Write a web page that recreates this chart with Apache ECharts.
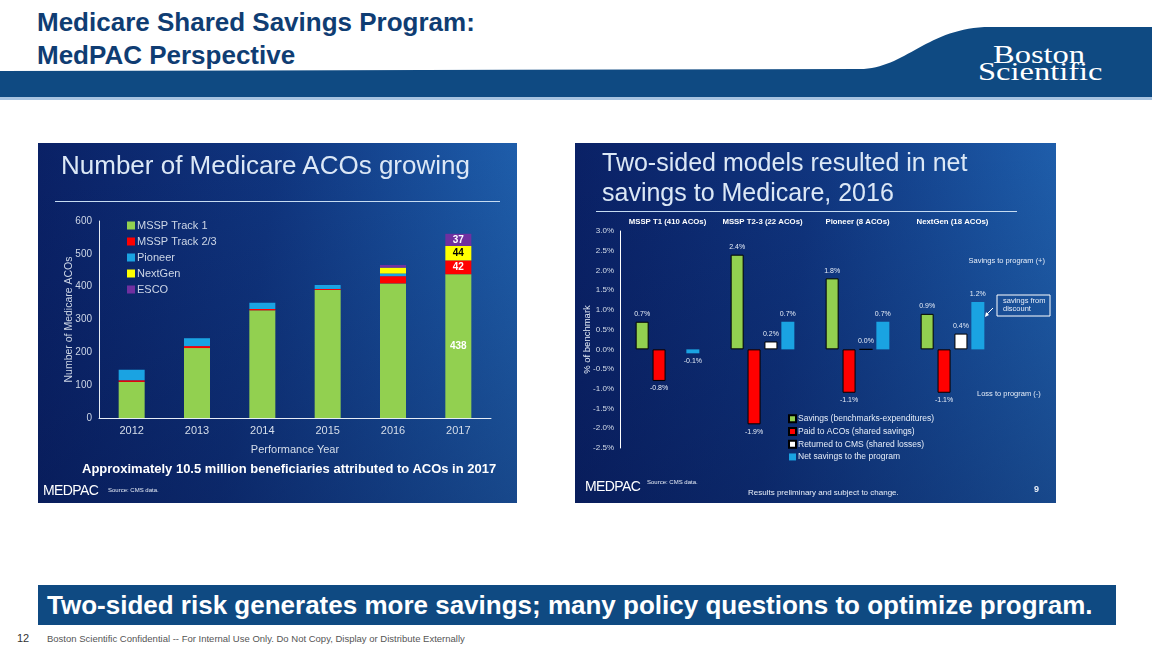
<!DOCTYPE html>
<html>
<head>
<meta charset="utf-8">
<script src="https://cdn.jsdelivr.net/npm/echarts@6/dist/echarts.min.js"></script>
<style>
  html, body { margin:0; padding:0; width:1152px; height:648px; background:#fff; overflow:hidden; font-family:"Liberation Sans", Arial, sans-serif; }
  .abs { position:absolute; }
  #hdr { left:0; top:0; width:1152px; height:102px; }
  .htitle { left:37px; color:#0f3d73; font-weight:bold; font-size:26px; line-height:33px; white-space:nowrap; }
  .logo { color:#fff; font-family:"Liberation Serif","DejaVu Serif",serif; font-size:25px; line-height:25px; white-space:nowrap; transform:scaleX(1.3); transform-origin:left top; }
  .panel { top:143px; height:360px; overflow:hidden; }
  #pl { left:38px; width:479px; background:
      linear-gradient(to bottom, rgba(0,0,0,0) 0%, rgba(3,12,60,0.35) 100%),
      linear-gradient(100deg, #0a2166 0%, #103680 45%, #1b56a3 80%, #2368b5 100%); }
  #pr { left:575px; width:481px; background:
      linear-gradient(to bottom, rgba(0,0,0,0) 0%, rgba(3,12,60,0.35) 100%),
      linear-gradient(100deg, #0a2166 0%, #103680 45%, #1b56a3 80%, #2368b5 100%); }
  .ptitle { color:#dce8f6; font-size:26px; line-height:30px; white-space:nowrap; }
  .rule { height:1px; background:#c6dcf2; }
  .chart { left:0; top:0; width:100%; height:100%; }
  .medpac { color:#fff; font-size:14px; letter-spacing:-0.6px; white-space:nowrap; line-height:16px; }
  .src { color:#e8eef8; font-size:6px; white-space:nowrap; line-height:8px; }
  #foot { left:38px; top:585px; width:1078px; height:40px; background:#0f4a82; }
  #foottxt { left:47px; top:585px; height:40px; line-height:41px; color:#fff; font-weight:bold; font-size:26px; white-space:nowrap; }
</style>
</head>
<body>
<svg id="hdr" class="abs" width="1152" height="102">
  <path d="M0,71 L860,69 C905,69 928,27 990,27 L1152,27 L1152,97 L0,97 Z" fill="#0f4a82"/>
  <rect x="0" y="97" width="1152" height="3" fill="#a8c3e0"/>
</svg>
<div class="abs htitle" style="top:6px">Medicare Shared Savings Program:</div>
<div class="abs htitle" style="top:39px">MedPAC Perspective</div>
<div class="abs logo" style="left:993px; top:42px;">Boston</div>
<div class="abs logo" style="left:978px; top:59px;">Scientific</div>

<div id="pl" class="abs panel">
  <div id="c1" class="abs chart"></div>
</div>
<div class="abs ptitle" style="left:61px; top:150px;">Number of Medicare ACOs growing</div>
<div class="abs rule" style="left:55px; top:201px; width:445px;"></div>
<div class="abs" style="left:82px; top:461px; color:#fff; font-weight:bold; font-size:13px; white-space:nowrap;">Approximately 10.5 million beneficiaries attributed to ACOs in 2017</div>
<div class="abs medpac" style="left:43px; top:482px;">MEDPAC</div>
<div class="abs src" style="left:108px; top:486px;">Source: CMS data.</div>

<div id="pr" class="abs panel">
  <div id="c2" class="abs chart"></div>
</div>
<div class="abs ptitle" style="left:602px; top:147px; font-size:25px; line-height:30px;">Two-sided models resulted in net<br>savings to Medicare, 2016</div>
<div class="abs rule" style="left:596px; top:211px; width:421px;"></div>
<div class="abs medpac" style="left:585px; top:478px;">MEDPAC</div>
<div class="abs src" style="left:647px; top:478px;">Source: CMS data.</div>
<div class="abs" style="left:748px; top:488px; color:#e8eef8; font-size:8px; white-space:nowrap;">Results preliminary and subject to change.</div>
<div class="abs" style="left:1034px; top:484px; color:#e8eef8; font-size:9px; font-weight:bold;">9</div>

<div id="foot" class="abs"></div>
<div id="foottxt" class="abs">Two-sided risk generates more savings; many policy questions to optimize program.</div>
<div class="abs" style="left:17px; top:632px; font-size:11px; color:#333;">12</div>
<div class="abs" style="left:47px; top:633px; font-size:9.5px; color:#555; white-space:nowrap;">Boston Scientific Confidential -- For Internal Use Only.  Do Not Copy, Display or Distribute Externally</div>

<script>
// ---------- Left chart data ----------
const years = ['2012', '2013', '2014', '2015', '2016', '2017'];
const msspTrack1 = [110, 213, 328, 390, 410, 438];
const msspTrack23 = [5, 6, 4, 3, 22, 42];
const pioneer = [32, 24, 19, 12, 8, 0];
const nextGen = [0, 0, 0, 0, 18, 44];
const esco = [0, 0, 0, 0, 8, 37];
const leftYTicks = [0, 100, 200, 300, 400, 500, 600];

// ---------- Right chart data ----------
const programs = ['MSSP T1 (410 ACOs)', 'MSSP T2-3 (22 ACOs)', 'Pioneer (8 ACOs)', 'NextGen (18 ACOs)'];
const savings = [0.7, 2.4, 1.8, 0.9];
const paidToACOs = [-0.8, -1.9, -1.1, -1.1];
const returnedToCMS = [null, 0.2, 0.0, 0.4];
const netSavings = [-0.1, 0.7, 0.7, 1.2];
const rightYTicks = [-2.5, -2.0, -1.5, -1.0, -0.5, 0.0, 0.5, 1.0, 1.5, 2.0, 2.5, 3.0];

const FONT = '"Liberation Sans", Arial, sans-serif';

// ---------- Left chart ----------
const c1 = echarts.init(document.getElementById('c1'), null, {renderer: 'canvas'});
const lastIdx = years.length - 1;
function leftSeries(name, values, color, labelColor) {
  return {
    name, type: 'bar', stack: 'total', barWidth: 26,
    itemStyle: { color },
    emphasis: { disabled: true },
    data: values.map((v, i) => (i === lastIdx && v !== 0) ? {
      value: v,
      label: { show: true, position: 'inside', color: labelColor, fontSize: 10, fontWeight: 'bold', fontFamily: FONT, formatter: '{c}' }
    } : v)
  };
}
c1.setOption({
  animation: false,
  grid: { left: 61, right: 26, top: 78, bottom: 85, containLabel: false, outerBoundsMode: 'none' },
  legend: {
    orient: 'vertical', left: 84, top: 71, itemWidth: 8, itemHeight: 8, itemGap: 3,
    icon: 'rect', selectedMode: false,
    textStyle: { color: '#cdd6e6', fontSize: 11, fontFamily: FONT, lineHeight: 13, padding: [0, 0, 0, -3] },
    data: ['MSSP Track 1', 'MSSP Track 2/3', 'Pioneer', 'NextGen', 'ESCO']
  },
  xAxis: {
    type: 'category', data: years,
    name: 'Performance Year', nameLocation: 'middle', nameGap: 26,
    nameTextStyle: { color: '#d6deea', fontSize: 11, fontFamily: FONT },
    axisLine: { lineStyle: { color: '#e6ecf5', width: 1 } },
    axisTick: { show: false },
    axisLabel: { color: '#d6deea', fontSize: 11, fontFamily: FONT, margin: 7 }
  },
  yAxis: {
    type: 'value', min: leftYTicks[0], max: leftYTicks[leftYTicks.length - 1], interval: 100,
    name: 'Number of Medicare ACOs', nameLocation: 'middle', nameGap: 24, nameMoveOverlap: false,
    nameTextStyle: { color: '#cdd6e6', fontSize: 10.5, fontFamily: FONT },
    axisLine: { show: true, onZero: false, lineStyle: { color: '#e6ecf5', width: 1 } },
    axisTick: { show: false },
    splitLine: { show: false },
    axisLabel: { color: '#cdd6e6', fontSize: 10, fontFamily: FONT, margin: 7 }
  },
  series: [
    leftSeries('MSSP Track 1', msspTrack1, '#92d050', '#ffffff'),
    leftSeries('MSSP Track 2/3', msspTrack23, '#ff0000', '#ffffff'),
    leftSeries('Pioneer', pioneer, '#1aa3e2', '#ffffff'),
    leftSeries('NextGen', nextGen, '#ffff00', '#000000'),
    leftSeries('ESCO', esco, '#7030a0', '#ffffff')
  ]
});

// ---------- Right chart ----------
const c2 = echarts.init(document.getElementById('c2'), null, {renderer: 'canvas'});
function pct(v) { return (Math.round(v * 10) / 10).toFixed(1) + '%'; }
function rightSeries(name, values, color, border) {
  return {
    name, type: 'bar', barWidth: 13, barGap: '30%',
    itemStyle: { color, borderColor: '#000', borderWidth: border ? 1 : 0 },
    emphasis: { disabled: true },
    data: values.map(v => v === null ? {
      value: 0, itemStyle: { opacity: 0 },
      label: { show: true, position: 'top', formatter: 'N/A' }
    } : {
      value: v,
      label: { show: true, position: v < 0 ? 'bottom' : 'top' }
    }),
    label: { show: true, color: '#e6edf8', fontSize: 7, fontFamily: FONT, distance: 4,
      formatter: p => pct(p.value) }
  };
}
c2.setOption({
  animation: false,
  grid: { left: 45, right: 56, top: 88, bottom: 55, containLabel: false, outerBoundsMode: 'none' },
  legend: {
    orient: 'vertical', left: 208, top: 265, itemWidth: 7, itemHeight: 7, itemGap: 1,
    icon: 'rect', selectedMode: false,
    textStyle: { color: '#e6edf8', fontSize: 8.5, fontFamily: FONT, lineHeight: 11.7, padding: [0, 0, 0, -3] },
    data: ['Savings (benchmarks-expenditures)', 'Paid to ACOs (shared savings)', 'Returned to CMS (shared losses)', 'Net savings to the program']
  },
  xAxis: {
    type: 'category', data: programs, position: 'top',
    axisLine: { show: false }, axisTick: { show: false },
    axisLabel: { interval: 0, color: '#ffffff', fontSize: 7.8, fontWeight: 'bold', fontFamily: FONT, margin: 5 }
  },
  yAxis: {
    type: 'value', min: rightYTicks[0], max: rightYTicks[rightYTicks.length - 1], interval: 0.5,
    name: '% of benchmark', nameLocation: 'middle', nameGap: 28, nameMoveOverlap: false,
    nameTextStyle: { color: '#e6edf8', fontSize: 9.5, fontFamily: FONT },
    axisLine: { show: true, onZero: false, lineStyle: { color: '#ffffff', width: 1 } },
    axisTick: { show: false }, splitLine: { show: false },
    axisLabel: { color: '#d6deea', fontSize: 8, fontFamily: FONT, margin: 6, formatter: v => pct(v) }
  },
  series: [
    rightSeries('Savings (benchmarks-expenditures)', savings, '#92d050', true),
    rightSeries('Paid to ACOs (shared savings)', paidToACOs, '#ff0000', true),
    rightSeries('Returned to CMS (shared losses)', returnedToCMS, '#ffffff', true),
    rightSeries('Net savings to the program', netSavings, '#1aa3e2', false)
  ],
  graphic: [
    { type: 'text', right: 11, top: 114, style: { text: 'Savings to program (+)', fill: '#e6edf8', font: '7.5px ' + FONT } },
    { type: 'text', left: 402, top: 247, style: { text: 'Loss to program (-)', fill: '#e6edf8', font: '7.5px ' + FONT } },
    { type: 'rect', shape: { x: 422, y: 152, width: 53, height: 21 }, style: { fill: 'none', stroke: '#ffffff', lineWidth: 1 } },
    { type: 'text', left: 428, top: 154, style: { text: 'savings from\ndiscount', fill: '#e6edf8', font: '7.5px ' + FONT, lineHeight: 8 } },
    { type: 'line', shape: { x1: 418, y1: 165, x2: 411, y2: 172 }, style: { stroke: '#ffffff', lineWidth: 1 } },
    { type: 'polygon', shape: { points: [[410, 174], [411, 169], [414, 172]] }, style: { fill: '#ffffff' } }
  ]
});
</script>
</body>
</html>
